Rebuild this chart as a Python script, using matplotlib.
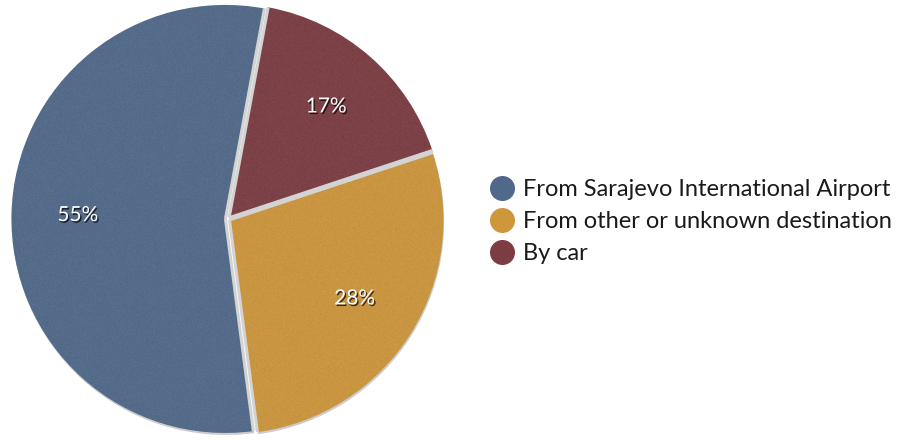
import matplotlib.pyplot as plt
import matplotlib.patheffects as pe
from matplotlib.lines import Line2D
import numpy as np

labels = ["From Sarajevo International Airport",
          "From other or unknown destination",
          "By car"]
shares = [55, 28, 17]
colors = ["#50698a", "#cf973c", "#7c3c42"]

plt.rcParams["font.family"] = ["Lato", "DejaVu Sans"]

W, H = 898, 442
fig = plt.figure(figsize=(W / 100, H / 100), dpi=100)

# pie centre and radius in pixels
cx, cy, R = 228, H - 219, 214
half = 230
ax = fig.add_axes([(cx - half) / W, (cy - half) / H, 2 * half / W, 2 * half / H])
lim = half / R

wedges, texts, autotexts = ax.pie(
    shares,
    colors=colors,
    startangle=79.5,
    counterclock=True,
    explode=[0.012, 0.008, 0.008],
    autopct="%d%%",
    pctdistance=0.69,
    radius=1.0,
    wedgeprops=dict(edgecolor="none", linewidth=0),
    textprops=dict(color="white", fontsize=15),
    frame=True,
)
ax.set_xlim(-lim, lim)
ax.set_ylim(-lim, lim)
ax.set_aspect("equal")
ax.axis("off")

for w in wedges:
    w.set_path_effects([pe.SimplePatchShadow(offset=(0.5, -1.5), shadow_rgbFace="black", alpha=0.2),
                        pe.Normal()])

# felt-like grain on the slices
rng = np.random.default_rng(3)
noise = rng.normal(0, 1, (460, 460))
for w in wedges:
    im = ax.imshow(noise, cmap="gray", extent=(-lim, lim, -lim, lim),
                   alpha=0.08, zorder=w.get_zorder() + 0.1, interpolation="nearest")
    im.set_clip_path(w)

# light seams along the straight edges of each slice
for w in wedges:
    x0, y0 = w.center
    for th in (w.theta1, w.theta2):
        a = np.deg2rad(th)
        ax.plot([x0, x0 + w.r * np.cos(a)], [y0, y0 + w.r * np.sin(a)],
                color="#d3d3d3", lw=2.2, solid_capstyle="butt", zorder=4)

for t in autotexts:
    t.set_zorder(5)
    t.set_path_effects([pe.SimplePatchShadow(offset=(1, -1.2), shadow_rgbFace="black", alpha=0.7),
                        pe.Normal()])

handles = [Line2D([], [], marker="o", linestyle="none", markersize=17,
                  markerfacecolor=c, markeredgecolor=c) for c in colors]
fig.legend(handles, labels, loc="upper left",
           bbox_to_anchor=(478 / W, 1 - 170 / H), frameon=False,
           fontsize=17, handletextpad=0.3, labelspacing=0.46,
           borderaxespad=0, handlelength=1.2, labelcolor="#1a1a1a")

fig.savefig("out.png", dpi=100)
